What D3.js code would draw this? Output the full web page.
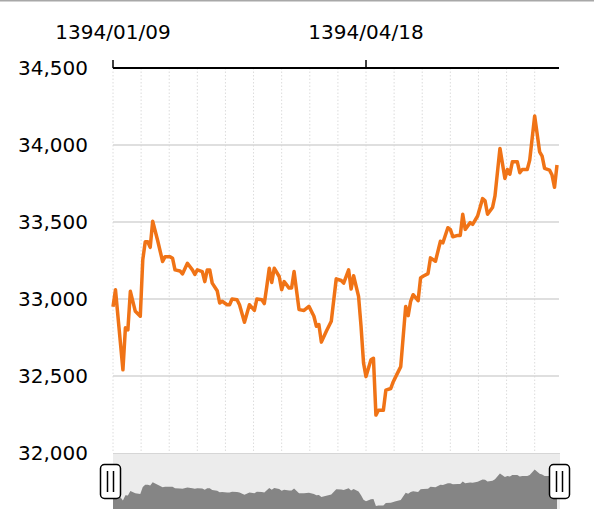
<!DOCTYPE html>
<html>
<head>
<meta charset="utf-8">
<script src="https://cdn.jsdelivr.net/npm/d3@7"></script>
<style>
  html, body { margin: 0; padding: 0; background: #fff; }
  svg { display: block; }
  text { font-family: Verdana, "DejaVu Sans", sans-serif; font-size: 20px; fill: #000; }
</style>
</head>
<body>
<svg id="chart" width="594" height="521"></svg>
<script>
// ---- data (day offset from 1394/01/09, index value) ----
const days = [0,1,4,5,6,7,9,11,12,13,14,15,16,18,20,21,23,24,25,27,28,30,32,33,34,36,37,38,39,40,42,43,44,46,47,48,50,51,53,55,57,58,60,61,62,63,64,65,67,68,69,71,72,73,75,77,79,81,82,83,84,86,88,90,92,93,95,96,97,99,100,101,102,104,105,106,107,109,110,112,113,114,116,118,119,120,121,123,124,125,127,128,130,132,133,135,136,137,139,140,141,142,144,145,147,149,150,151,153,154,156,158,159,160,161,163,164,165,167,168,170,172,173,174,176,177,178,179];
const values = [32950,33060,32540,32813,32800,33050,32920,32888,33254,33372,33372,33335,33505,33380,33243,33275,33275,33265,33189,33182,33163,33232,33189,33160,33189,33178,33113,33189,33189,33103,33054,32974,32985,32963,32963,33000,32995,32963,32849,32963,32926,33000,32995,32970,33081,33200,33107,33200,33146,33060,33113,33071,33071,33178,32931,32926,32952,32888,32823,32834,32720,32791,32856,33131,33120,33103,33189,33065,33151,33017,32822,32585,32496,32605,32615,32246,32278,32278,32408,32419,32463,32496,32561,32952,32892,32985,33028,32989,33137,33148,33165,33267,33245,33375,33365,33463,33452,33404,33413,33413,33550,33452,33496,33485,33539,33652,33637,33550,33594,33670,33978,33783,33841,33811,33891,33891,33820,33841,33841,33902,34188,33956,33928,33848,33837,33805,33725,33870];
const yTicks = [32000, 32500, 33000, 33500, 34000, 34500];
const xTickDays = [0, 102];
const xTickLabels = ["1394/01/09", "1394/04/18"];

const data = days.map((d, i) => ({ d, v: values[i] }));

const svg = d3.select("#chart");
const pLeft = 113, pRight = 557, pTop = 68, pBottom = 453;
const x = d3.scaleLinear().domain([0, 179]).range([pLeft, pRight]);
const y = d3.scaleLinear().domain([32000, 34500]).range([pBottom, pTop]);

// top border
svg.append("line").attr("x1", 0).attr("x2", 594).attr("y1", 0.75).attr("y2", 0.75)
  .attr("stroke", "#a8a8a8").attr("stroke-width", 1.5);

// vertical dotted grid
const gridStep = 102 / 9;
const gridDays = d3.range(0, 16).map(k => k * gridStep);
svg.append("g").selectAll("line").data(gridDays).join("line")
  .attr("x1", d => x(d)).attr("x2", d => x(d))
  .attr("y1", pTop).attr("y2", pBottom)
  .attr("stroke", "#dcdcdc").attr("stroke-width", 1).attr("stroke-dasharray", "1.5,2");

// horizontal grid
svg.append("g").selectAll("line").data(yTicks.filter(t => t > 32000 && t < 34500)).join("line")
  .attr("x1", pLeft).attr("x2", 559)
  .attr("y1", d => y(d)).attr("y2", d => y(d))
  .attr("stroke", "#d4d4d4").attr("stroke-width", 1.5);

// y labels
svg.append("g").selectAll("text").data(yTicks).join("text")
  .attr("x", 88).attr("y", d => y(d)).attr("dy", "0.36em")
  .attr("text-anchor", "end")
  .text(d => d3.format(",")(d));

// top axis
svg.append("line").attr("x1", pLeft).attr("x2", 559).attr("y1", pTop).attr("y2", pTop)
  .attr("stroke", "#000").attr("stroke-width", 2);
svg.append("g").selectAll("line").data(xTickDays).join("line")
  .attr("x1", d => x(d)).attr("x2", d => x(d))
  .attr("y1", pTop).attr("y2", pTop - 8)
  .attr("stroke", "#000").attr("stroke-width", 1.5);
svg.append("g").selectAll("text").data(xTickDays).join("text")
  .attr("x", d => x(d)).attr("y", 39).attr("text-anchor", "middle")
  .text((d, i) => xTickLabels[i]);

// navigator
const navTop = 453, navBottom = 509;
svg.append("rect").attr("x", pLeft).attr("y", navTop).attr("width", 560 - pLeft).attr("height", navBottom - navTop)
  .attr("fill", "#ececec");
svg.append("line").attr("x1", pLeft).attr("x2", 560).attr("y1", navTop + 0.5).attr("y2", navTop + 0.5)
  .attr("stroke", "#d6d6d6").attr("stroke-width", 1);
const yNav = d3.scaleLinear().domain([d3.min(values), d3.max(values)]).range([506, 469.5]);
const area = d3.area().x(p => x(p.d)).y0(navBottom).y1(p => yNav(p.v));
svg.append("path").datum(data).attr("d", area).attr("fill", "#858585");

// main line
const line = d3.line().x(p => x(p.d)).y(p => y(p.v));
svg.append("path").datum(data).attr("d", line)
  .attr("fill", "none").attr("stroke", "#f07316").attr("stroke-width", 3.5)
  .attr("stroke-linejoin", "round");

// handles
[110.5, 559.5].forEach(cx => {
  const g = svg.append("g");
  g.append("rect").attr("x", cx - 10).attr("y", 464.5).attr("width", 20).attr("height", 34)
    .attr("rx", 4).attr("fill", "#fff").attr("stroke", "#000").attr("stroke-width", 1.5);
  [-3, 3].forEach(o => g.append("line")
    .attr("x1", cx + o).attr("x2", cx + o).attr("y1", 471).attr("y2", 492)
    .attr("stroke", "#000").attr("stroke-width", 1.5));
});
</script>
</body>
</html>
